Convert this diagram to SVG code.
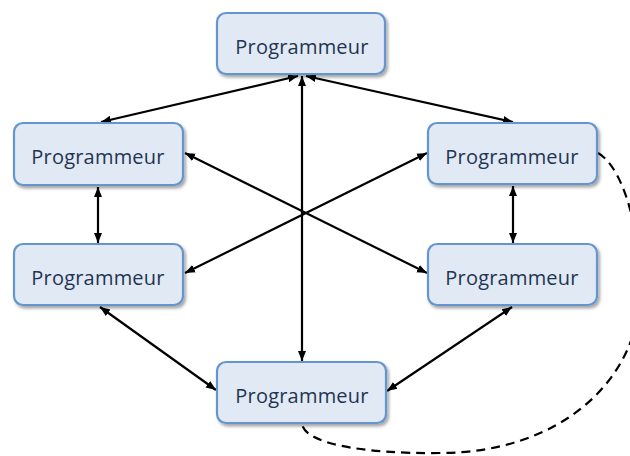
<svg xmlns="http://www.w3.org/2000/svg" width="630" height="456" viewBox="0 0 630 456">
  <defs>
    <style>
      .box { fill: #E1E9F5; stroke: #6595CE; stroke-width: 2.2; filter: url(#shadow); }
      .label { font-family: "Open Sans", "Noto Sans", "Liberation Sans", sans-serif; font-size: 20px; letter-spacing: 0.2px; fill: #1F3552; text-anchor: middle; }
      .link { stroke: #000; stroke-width: 2.2; fill: none; marker-start: url(#arrow); marker-end: url(#arrow); }
      .dash { stroke: #000; stroke-width: 2.2; fill: none; stroke-dasharray: 9 6; }
    </style>
    <filter id="shadow" x="-10%" y="-20%" width="125%" height="150%">
      <feDropShadow dx="2" dy="2.5" stdDeviation="1.6" flood-color="#000" flood-opacity="0.35"/>
    </filter>
    <marker id="arrow" viewBox="0 0 10 10" refX="10" refY="5" markerWidth="10" markerHeight="10" markerUnits="userSpaceOnUse" orient="auto-start-reverse">
      <path d="M0,1 L10,5 L0,9 Z" fill="#000"/>
    </marker>
  </defs>

  <g id="connectors">
    <line class="link" x1="298" y1="76" x2="101" y2="122"/>
    <line class="link" x1="306" y1="76" x2="513" y2="122"/>
    <line class="link" x1="302" y1="76" x2="302" y2="361"/>
    <line class="link" x1="185" y1="153" x2="427" y2="273"/>
    <line class="link" x1="427" y1="153" x2="185" y2="273"/>
    <line class="link" x1="98" y1="187" x2="98" y2="243"/>
    <line class="link" x1="513" y1="186" x2="513" y2="243"/>
    <line class="link" x1="100" y1="307" x2="216" y2="390"/>
    <line class="link" x1="512" y1="307" x2="387" y2="391"/>
    <path class="dash" d="M598,153 C620,165 640,220 640,290 C640,380 560,453 440,453 C360,454 305,443 302,424"/>
  </g>

  <g id="node-top">
    <rect class="box" x="217" y="13" width="168" height="61" rx="9"/>
    <text class="label" x="302" y="54">Programmeur</text>
  </g>
  <g id="node-left-upper">
    <rect class="box" x="14" y="123" width="169" height="62" rx="9"/>
    <text class="label" x="98" y="164">Programmeur</text>
  </g>
  <g id="node-left-lower">
    <rect class="box" x="14" y="244" width="169" height="61" rx="9"/>
    <text class="label" x="98" y="285">Programmeur</text>
  </g>
  <g id="node-right-upper">
    <rect class="box" x="428" y="123" width="169" height="61" rx="9"/>
    <text class="label" x="512" y="164">Programmeur</text>
  </g>
  <g id="node-right-lower">
    <rect class="box" x="428" y="244" width="169" height="61" rx="9"/>
    <text class="label" x="512" y="285">Programmeur</text>
  </g>
  <g id="node-bottom">
    <rect class="box" x="217" y="362" width="169" height="61" rx="9"/>
    <text class="label" x="302" y="403">Programmeur</text>
  </g>
</svg>
